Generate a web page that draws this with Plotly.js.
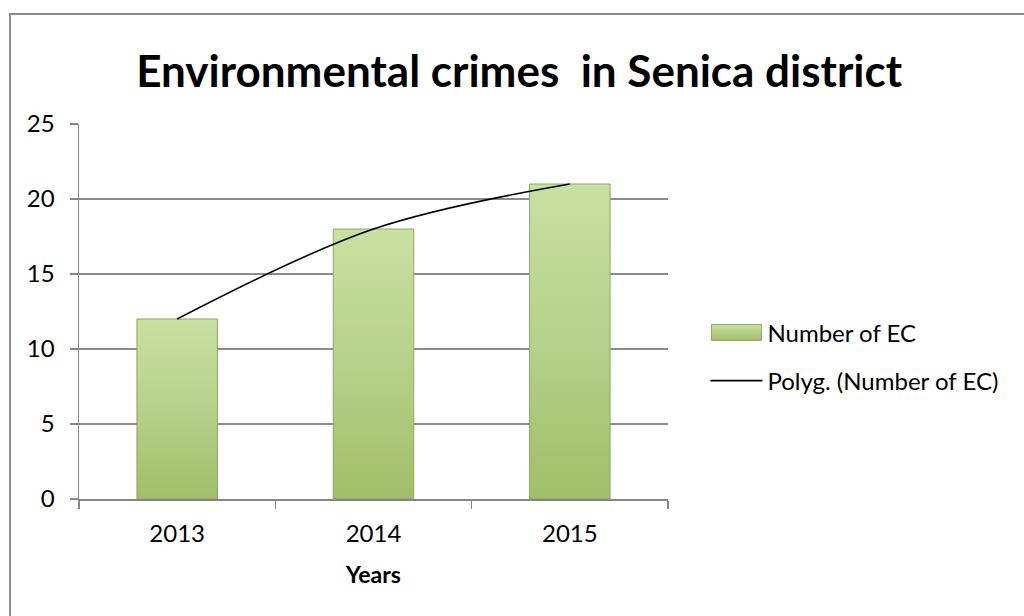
<!DOCTYPE html>
<html>
<head>
<meta charset="utf-8">
<script src="https://cdn.plot.ly/plotly-3.0.1.min.js"></script>
<style>
  html, body { margin: 0; padding: 0; background: #fff; }
  #wrap { position: relative; width: 1024px; height: 616px; overflow: hidden; }
  #frame { position: absolute; left: 9px; top: 13px; width: 1100px; height: 700px;
           border-left: 2px solid #8c8c8c; border-top: 2px solid #8c8c8c; box-sizing: border-box; }
  #chart { position: absolute; left: 0; top: 0; width: 1024px; height: 616px; }
</style>
</head>
<body>
<div id="wrap">
  <div id="frame"></div>
  <div id="chart"></div>
</div>
<script>
const years = ['2013', '2014', '2015'];
const crimes = [12, 18, 21];
const yTicks = [0, 5, 10, 15, 20, 25];
const titleText = 'Environmental crimes  in Senica district';
const barName = 'Number of EC';
const trendName = 'Polyg. (Number of EC)';
const xTitle = 'Years';

const font = 'Lato, "Open Sans", sans-serif';

const traces = [
  {
    type: 'bar', x: years, y: crimes, name: barName, width: 0.41,
    marker: { color: '#b3cf86', line: { color: '#8ea95c', width: 1 } },
    legendgroup: 'a'
  },
  {
    type: 'scatter', mode: 'lines', x: years, y: crimes, name: trendName,
    line: { color: '#000000', width: 1.6, shape: 'spline', smoothing: 1 },
    legendgroup: 'b'
  }
];

const layout = {
  width: 1024, height: 616,
  margin: { l: 79, r: 356, t: 124, b: 117 },
  paper_bgcolor: 'rgba(0,0,0,0)', plot_bgcolor: 'rgba(0,0,0,0)',
  font: { family: font, color: '#000', size: 24 },
  title: { text: '<b>' + titleText + '</b>', font: { family: font, size: 44, color: '#000' },
           x: 0.507, xref: 'container', xanchor: 'center', y: 0.883, yref: 'container', yanchor: 'middle' },
  showlegend: true,
  legend: { x: 1.0635, xanchor: 'left', y: 0.379, yanchor: 'middle', font: { size: 24, family: font },
            tracegroupgap: 14, itemwidth: 52, bgcolor: 'rgba(0,0,0,0)' },
  xaxis: {
    type: 'category', showgrid: false, showline: true, linecolor: '#868686', linewidth: 1.5,
    ticks: 'outside', tickson: 'boundaries', ticklen: 8, tickcolor: '#868686', tickwidth: 1.5,
    ticklabelstandoff: 13,
    tickfont: { size: 24, family: font },
    title: { text: '<b>' + xTitle + '</b>', font: { size: 23, family: font }, standoff: 20 },
    range: [-0.5, 2.5]
  },
  yaxis: {
    range: [0, 25], tickvals: yTicks, showgrid: true, gridcolor: '#8c8c8c', gridwidth: 1.5,
    showline: true, linecolor: '#868686', linewidth: 1.5, zeroline: false,
    ticks: 'outside', ticklen: 8, tickcolor: '#868686', tickwidth: 1.5,
    ticklabelstandoff: 10,
    tickfont: { size: 24, family: font }
  },
  bargap: 0.59
};

Plotly.newPlot('chart', traces, layout, { displayModeBar: false, staticPlot: true }).then(function (gd) {
  const svg = gd.querySelector('svg.main-svg');
  const ns = 'http://www.w3.org/2000/svg';
  let defs = svg.querySelector('defs');
  if (!defs) { defs = document.createElementNS(ns, 'defs'); svg.insertBefore(defs, svg.firstChild); }
  const g = document.createElementNS(ns, 'linearGradient');
  g.setAttribute('id', 'barGrad'); g.setAttribute('x1', '0'); g.setAttribute('y1', '0');
  g.setAttribute('x2', '0'); g.setAttribute('y2', '1');
  [['0', '#c8e0a2'], ['0.5', '#b6d18b'], ['1', '#a1be68']].forEach(function (s) {
    const st = document.createElementNS(ns, 'stop');
    st.setAttribute('offset', s[0]); st.setAttribute('stop-color', s[1]);
    g.appendChild(st);
  });
  defs.appendChild(g);
  gd.querySelectorAll('.barlayer .point path').forEach(function (p) {
    p.style.fill = 'url(#barGrad)';
  });
  // wider legend swatch for the bar series, like the reference
  const lp = gd.querySelector('.legend .traces .legendpoints path');
  if (lp) {
    lp.setAttribute('d', 'M-25,-8H25V8H-25Z');
    lp.style.fill = 'url(#barGrad)';
  }
});
</script>
</body>
</html>
